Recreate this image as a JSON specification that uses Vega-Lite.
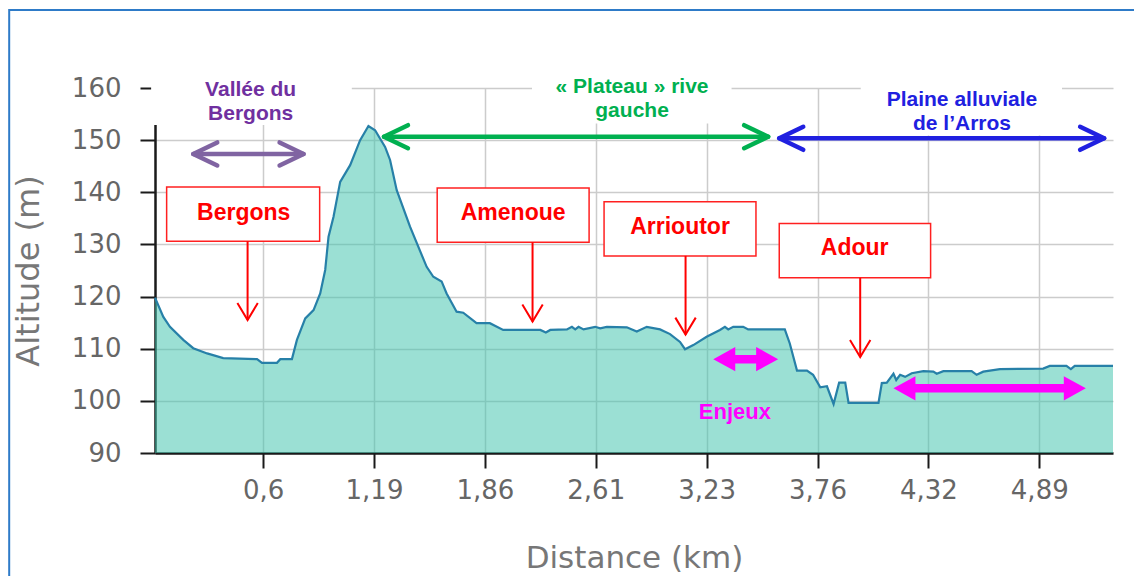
{
  "$schema": "https://vega.github.io/schema/vega-lite/v6.json",
  "width": 958,
  "height": 365,
  "autosize": {"type": "none"},
  "padding": {"left": 155, "top": 88, "right": 21, "bottom": 123},
  "background": "white",
  "config": {"view": {"stroke": null}},
  "datasets": {
    "profile": [
      {"n": 0.5, "alt": 119.8}, {"n": 2.0, "alt": 116.1}, {"n": 3.2, "alt": 114.2}, {"n": 5.6, "alt": 111.7},
      {"n": 7.4, "alt": 110.1}, {"n": 9.9, "alt": 109.1}, {"n": 12.8, "alt": 108.2}, {"n": 18.9, "alt": 108.0},
      {"n": 19.8, "alt": 107.3}, {"n": 22.5, "alt": 107.3}, {"n": 23.1, "alt": 108.0}, {"n": 25.2, "alt": 108.0},
      {"n": 26.1, "alt": 111.7}, {"n": 27.6, "alt": 115.8}, {"n": 29.1, "alt": 117.4}, {"n": 30.3, "alt": 120.6},
      {"n": 31.2, "alt": 125.1}, {"n": 31.8, "alt": 131.5}, {"n": 32.7, "alt": 135.3}, {"n": 33.9, "alt": 142.0},
      {"n": 35.7, "alt": 145.2}, {"n": 37.5, "alt": 150.0}, {"n": 39.0, "alt": 152.7}, {"n": 40.2, "alt": 151.9},
      {"n": 42.0, "alt": 148.7}, {"n": 42.9, "alt": 146.2}, {"n": 44.1, "alt": 140.4}, {"n": 46.5, "alt": 133.4},
      {"n": 49.5, "alt": 125.7}, {"n": 50.7, "alt": 123.8}, {"n": 52.2, "alt": 122.9}, {"n": 53.1, "alt": 120.6},
      {"n": 54.9, "alt": 117.1}, {"n": 56.1, "alt": 116.9}, {"n": 58.5, "alt": 114.9}, {"n": 60.9, "alt": 114.9},
      {"n": 63.3, "alt": 113.6}, {"n": 70.0, "alt": 113.6}, {"n": 71.0, "alt": 113.1}, {"n": 71.8, "alt": 113.6},
      {"n": 74.8, "alt": 113.7}, {"n": 75.7, "alt": 114.2}, {"n": 76.3, "alt": 113.7}, {"n": 76.9, "alt": 114.2},
      {"n": 77.8, "alt": 113.7}, {"n": 79.9, "alt": 114.2}, {"n": 80.8, "alt": 113.9}, {"n": 82.0, "alt": 114.2},
      {"n": 85.6, "alt": 114.1}, {"n": 87.4, "alt": 113.3}, {"n": 89.2, "alt": 114.2}, {"n": 91.6, "alt": 113.7},
      {"n": 93.4, "alt": 112.8}, {"n": 95.2, "alt": 111.3}, {"n": 96.1, "alt": 109.9}, {"n": 97.6, "alt": 110.7},
      {"n": 100.0, "alt": 112.3}, {"n": 102.4, "alt": 113.6}, {"n": 103.3, "alt": 114.2}, {"n": 103.9, "alt": 113.7},
      {"n": 104.8, "alt": 114.2}, {"n": 106.6, "alt": 114.2}, {"n": 107.5, "alt": 113.7}, {"n": 114.1, "alt": 113.7},
      {"n": 115.0, "alt": 111.0}, {"n": 116.3, "alt": 105.8}, {"n": 118.1, "alt": 105.8}, {"n": 119.2, "alt": 105.0},
      {"n": 120.5, "alt": 102.6}, {"n": 121.7, "alt": 102.8}, {"n": 122.9, "alt": 99.4}, {"n": 123.9, "alt": 103.5},
      {"n": 125.0, "alt": 103.5}, {"n": 125.6, "alt": 99.6}, {"n": 131.0, "alt": 99.6}, {"n": 131.6, "alt": 103.4},
      {"n": 132.5, "alt": 103.5}, {"n": 133.7, "alt": 105.2}, {"n": 134.2, "alt": 104.0}, {"n": 134.9, "alt": 105.0},
      {"n": 135.8, "alt": 104.6}, {"n": 137.0, "alt": 105.3}, {"n": 139.1, "alt": 105.7}, {"n": 140.9, "alt": 105.6},
      {"n": 141.5, "alt": 105.2}, {"n": 142.7, "alt": 105.7}, {"n": 147.8, "alt": 105.7}, {"n": 148.7, "alt": 105.0},
      {"n": 149.9, "alt": 105.6}, {"n": 152.9, "alt": 106.1}, {"n": 160.7, "alt": 106.2}, {"n": 161.9, "alt": 106.7},
      {"n": 164.9, "alt": 106.7}, {"n": 165.7, "alt": 106.1}, {"n": 166.4, "alt": 106.7}, {"n": 173.3, "alt": 106.7}
    ],
    "white_boxes": [
      {"n0": -0.2, "n1": 36.0, "a0": 152.9, "a1": 160.6},
      {"n0": 68.5, "n1": 104.5, "a0": 153.2, "a1": 160.6},
      {"n0": 127.8, "n1": 164.1, "a0": 150.9, "a1": 160.6}
    ],
    "frame": [
      {"n0": -25.8, "n1": 178.2, "a0": 63.7, "a1": 174.96}
    ],
    "zone_labels": [
      {"name": "vallee", "label": "Vallée du\nBergons", "n": 17.75, "a": 159.7},
      {"name": "plateau", "label": "« Plateau » rive\ngauche", "n": 86.55, "a": 160.1},
      {"name": "plaine", "label": "Plaine alluviale\nde l’Arros", "n": 146.06, "a": 157.7}
    ],
    "zone_arrows": [
      {"name": "vallee", "from": 7.4, "to": 27.3, "a": 147.35},
      {"name": "plateau", "from": 41.8, "to": 111.1, "a": 150.66},
      {"name": "plaine", "from": 113.1, "to": 171.7, "a": 150.36}
    ],
    "callouts": [
      {"label": "Bergons", "n0": 2.6, "n1": 30.2, "a0": 130.6, "a1": 141.0, "tn": 16.5, "ta": 136.1, "an": 17.2, "tip": 115.5},
      {"label": "Amenoue", "n0": 51.4, "n1": 78.8, "a0": 130.4, "a1": 140.8, "tn": 65.1, "ta": 136.1, "an": 68.6, "tip": 115.2},
      {"label": "Arrioutor", "n0": 81.5, "n1": 108.9, "a0": 127.8, "a1": 138.2, "tn": 95.2, "ta": 133.4, "an": 96.2, "tip": 112.7},
      {"label": "Adour", "n0": 113.1, "n1": 140.4, "a0": 123.6, "a1": 134.0, "tn": 126.7, "ta": 129.3, "an": 127.7, "tip": 108.4}
    ],
    "enjeux_arrows": [
      {"from": 101.2, "to": 112.9, "s0": 103.4, "s1": 110.7, "a": 108.0},
      {"from": 133.7, "to": 168.4, "s0": 135.9, "s1": 166.2, "a": 102.4}
    ],
    "enjeux_label": [
      {"label": "Enjeux", "n": 105.1, "a": 97.8}
    ]
  },
  "encoding": {
    "x": {
      "field": "n", "type": "quantitative",
      "scale": {"domain": [0.5, 173.3], "nice": false, "zero": false},
      "axis": {
        "values": [20, 40, 60, 80, 100, 120, 140, 160],
        "labelExpr": "['0,6','1,19','1,86','2,61','3,23','3,76','4,32','4,89'][datum.value/20-1]",
        "title": "Distance (km)",
        "grid": true, "gridColor": "#cccccc", "gridWidth": 1.5,
        "domainColor": "#1a1a1a", "domainWidth": 2.5,
        "tickColor": "#1a1a1a", "tickWidth": 2, "tickSize": 15,
        "labelFont": "DejaVu Sans", "labelFontSize": 26, "labelColor": "#666666", "labelPadding": 9,
        "titleFont": "DejaVu Sans", "titleFontSize": 31, "titleFontWeight": "normal", "titleColor": "#777777", "titlePadding": 40
      }
    },
    "y": {
      "field": "alt", "type": "quantitative",
      "scale": {"domain": [90, 160], "nice": false, "zero": false},
      "axis": {
        "values": [90, 100, 110, 120, 130, 140, 150, 160],
        "title": "Altitude (m)",
        "grid": true, "gridColor": "#cccccc", "gridWidth": 1.5,
        "domainColor": "#1a1a1a", "domainWidth": 2.5,
        "tickColor": "#1a1a1a", "tickWidth": 2, "tickSize": 15,
        "labelFont": "DejaVu Sans", "labelFontSize": 26, "labelColor": "#666666", "labelPadding": 19,
        "titleFont": "DejaVu Sans", "titleFontSize": 32, "titleFontWeight": "normal", "titleColor": "#777777", "titlePadding": 26
      }
    }
  },
  "layer": [
    {
      "data": {"name": "profile"},
      "mark": {"type": "area", "fill": "#3FC3AC", "fillOpacity": 0.52},
      "encoding": {"y2": {"datum": 90}}
    },
    {
      "data": {"name": "profile"},
      "mark": {"type": "line", "color": "#2780A8", "strokeWidth": 2.2},
      "encoding": {}
    },
    {
      "data": {"name": "white_boxes"},
      "mark": {"type": "rect", "fill": "white", "strokeWidth": 0},
      "encoding": {
        "x": {"field": "n0", "type": "quantitative"},
        "x2": {"field": "n1"},
        "y": {"field": "a0", "type": "quantitative"},
        "y2": {"field": "a1"}
      }
    },
    {
      "data": {"name": "zone_labels"},
      "mark": {"type": "text", "font": "Liberation Sans", "fontWeight": "bold", "fontSize": 21, "lineBreak": "\n", "lineHeight": 24, "align": "center", "baseline": "middle"},
      "encoding": {
        "x": {"field": "n", "type": "quantitative"},
        "y": {"field": "a", "type": "quantitative"},
        "text": {"field": "label"},
        "color": {"field": "name", "type": "nominal", "scale": {"domain": ["vallee", "plateau", "plaine"], "range": ["#7030A0", "#00B050", "#2020E0"]}, "legend": null}
      }
    },
    {
      "data": {"name": "zone_arrows"},
      "mark": {"type": "rule", "strokeWidth": 4.5, "strokeCap": "round"},
      "encoding": {
        "x": {"field": "from", "type": "quantitative"},
        "x2": {"field": "to"},
        "y": {"field": "a", "type": "quantitative"},
        "color": {"field": "name", "type": "nominal", "scale": {"domain": ["vallee", "plateau", "plaine"], "range": ["#8064A2", "#00B050", "#2020E0"]}, "legend": null}
      }
    },
    {
      "data": {"name": "zone_arrows"},
      "mark": {"type": "point", "shape": "M1,-0.48L0,0L1,0.48", "size": 2304, "filled": false, "strokeWidth": 4.5, "strokeCap": "round", "strokeJoin": "round", "opacity": 1},
      "encoding": {
        "x": {"field": "from", "type": "quantitative"},
        "y": {"field": "a", "type": "quantitative"},
        "color": {"field": "name", "type": "nominal", "scale": {"domain": ["vallee", "plateau", "plaine"], "range": ["#8064A2", "#00B050", "#2020E0"]}, "legend": null}
      }
    },
    {
      "data": {"name": "zone_arrows"},
      "mark": {"type": "point", "shape": "M-1,-0.48L0,0L-1,0.48", "size": 2304, "filled": false, "strokeWidth": 4.5, "strokeCap": "round", "strokeJoin": "round", "opacity": 1},
      "encoding": {
        "x": {"field": "to", "type": "quantitative"},
        "y": {"field": "a", "type": "quantitative"},
        "color": {"field": "name", "type": "nominal", "scale": {"domain": ["vallee", "plateau", "plaine"], "range": ["#8064A2", "#00B050", "#2020E0"]}, "legend": null}
      }
    },
    {
      "data": {"name": "callouts"},
      "mark": {"type": "rect", "fill": "white", "stroke": "#FF2020", "strokeWidth": 1.5},
      "encoding": {
        "x": {"field": "n0", "type": "quantitative"},
        "x2": {"field": "n1"},
        "y": {"field": "a0", "type": "quantitative"},
        "y2": {"field": "a1"}
      }
    },
    {
      "data": {"name": "callouts"},
      "mark": {"type": "text", "font": "Liberation Sans", "fontWeight": "bold", "fontSize": 23, "color": "#FF0000", "align": "center", "baseline": "middle"},
      "encoding": {
        "x": {"field": "tn", "type": "quantitative"},
        "y": {"field": "ta", "type": "quantitative"},
        "text": {"field": "label"}
      }
    },
    {
      "data": {"name": "callouts"},
      "mark": {"type": "rule", "color": "#FF0000", "strokeWidth": 2},
      "encoding": {
        "x": {"field": "an", "type": "quantitative"},
        "y": {"field": "a0", "type": "quantitative"},
        "y2": {"field": "tip"}
      }
    },
    {
      "data": {"name": "callouts"},
      "mark": {"type": "point", "shape": "M-0.6,-1L0,0L0.6,-1", "size": 1156, "filled": false, "color": "#FF0000", "strokeWidth": 2, "opacity": 1},
      "encoding": {
        "x": {"field": "an", "type": "quantitative"},
        "y": {"field": "tip", "type": "quantitative"}
      }
    },
    {
      "data": {"name": "enjeux_arrows"},
      "mark": {"type": "rule", "color": "#FF00FF", "strokeWidth": 8.5},
      "encoding": {
        "x": {"field": "s0", "type": "quantitative"},
        "x2": {"field": "s1"},
        "y": {"field": "a", "type": "quantitative"}
      }
    },
    {
      "data": {"name": "enjeux_arrows"},
      "mark": {"type": "point", "shape": "M0,0L1,-0.55L1,0.55Z", "size": 1936, "filled": true, "color": "#FF00FF", "strokeWidth": 0, "opacity": 1},
      "encoding": {
        "x": {"field": "from", "type": "quantitative"},
        "y": {"field": "a", "type": "quantitative"}
      }
    },
    {
      "data": {"name": "enjeux_arrows"},
      "mark": {"type": "point", "shape": "M0,0L-1,-0.55L-1,0.55Z", "size": 1936, "filled": true, "color": "#FF00FF", "strokeWidth": 0, "opacity": 1},
      "encoding": {
        "x": {"field": "to", "type": "quantitative"},
        "y": {"field": "a", "type": "quantitative"}
      }
    },
    {
      "data": {"name": "enjeux_label"},
      "mark": {"type": "text", "font": "Liberation Sans", "fontWeight": "bold", "fontSize": 22, "color": "#FF00FF", "align": "center", "baseline": "middle"},
      "encoding": {
        "x": {"field": "n", "type": "quantitative"},
        "y": {"field": "a", "type": "quantitative"},
        "text": {"field": "label"}
      }
    },
    {
      "data": {"name": "frame"},
      "mark": {"type": "rect", "fill": "transparent", "stroke": "#2E7BC8", "strokeWidth": 2},
      "encoding": {
        "x": {"field": "n0", "type": "quantitative"},
        "x2": {"field": "n1"},
        "y": {"field": "a0", "type": "quantitative"},
        "y2": {"field": "a1"}
      }
    }
  ],
  "resolve": {"scale": {"color": "independent"}}
}
